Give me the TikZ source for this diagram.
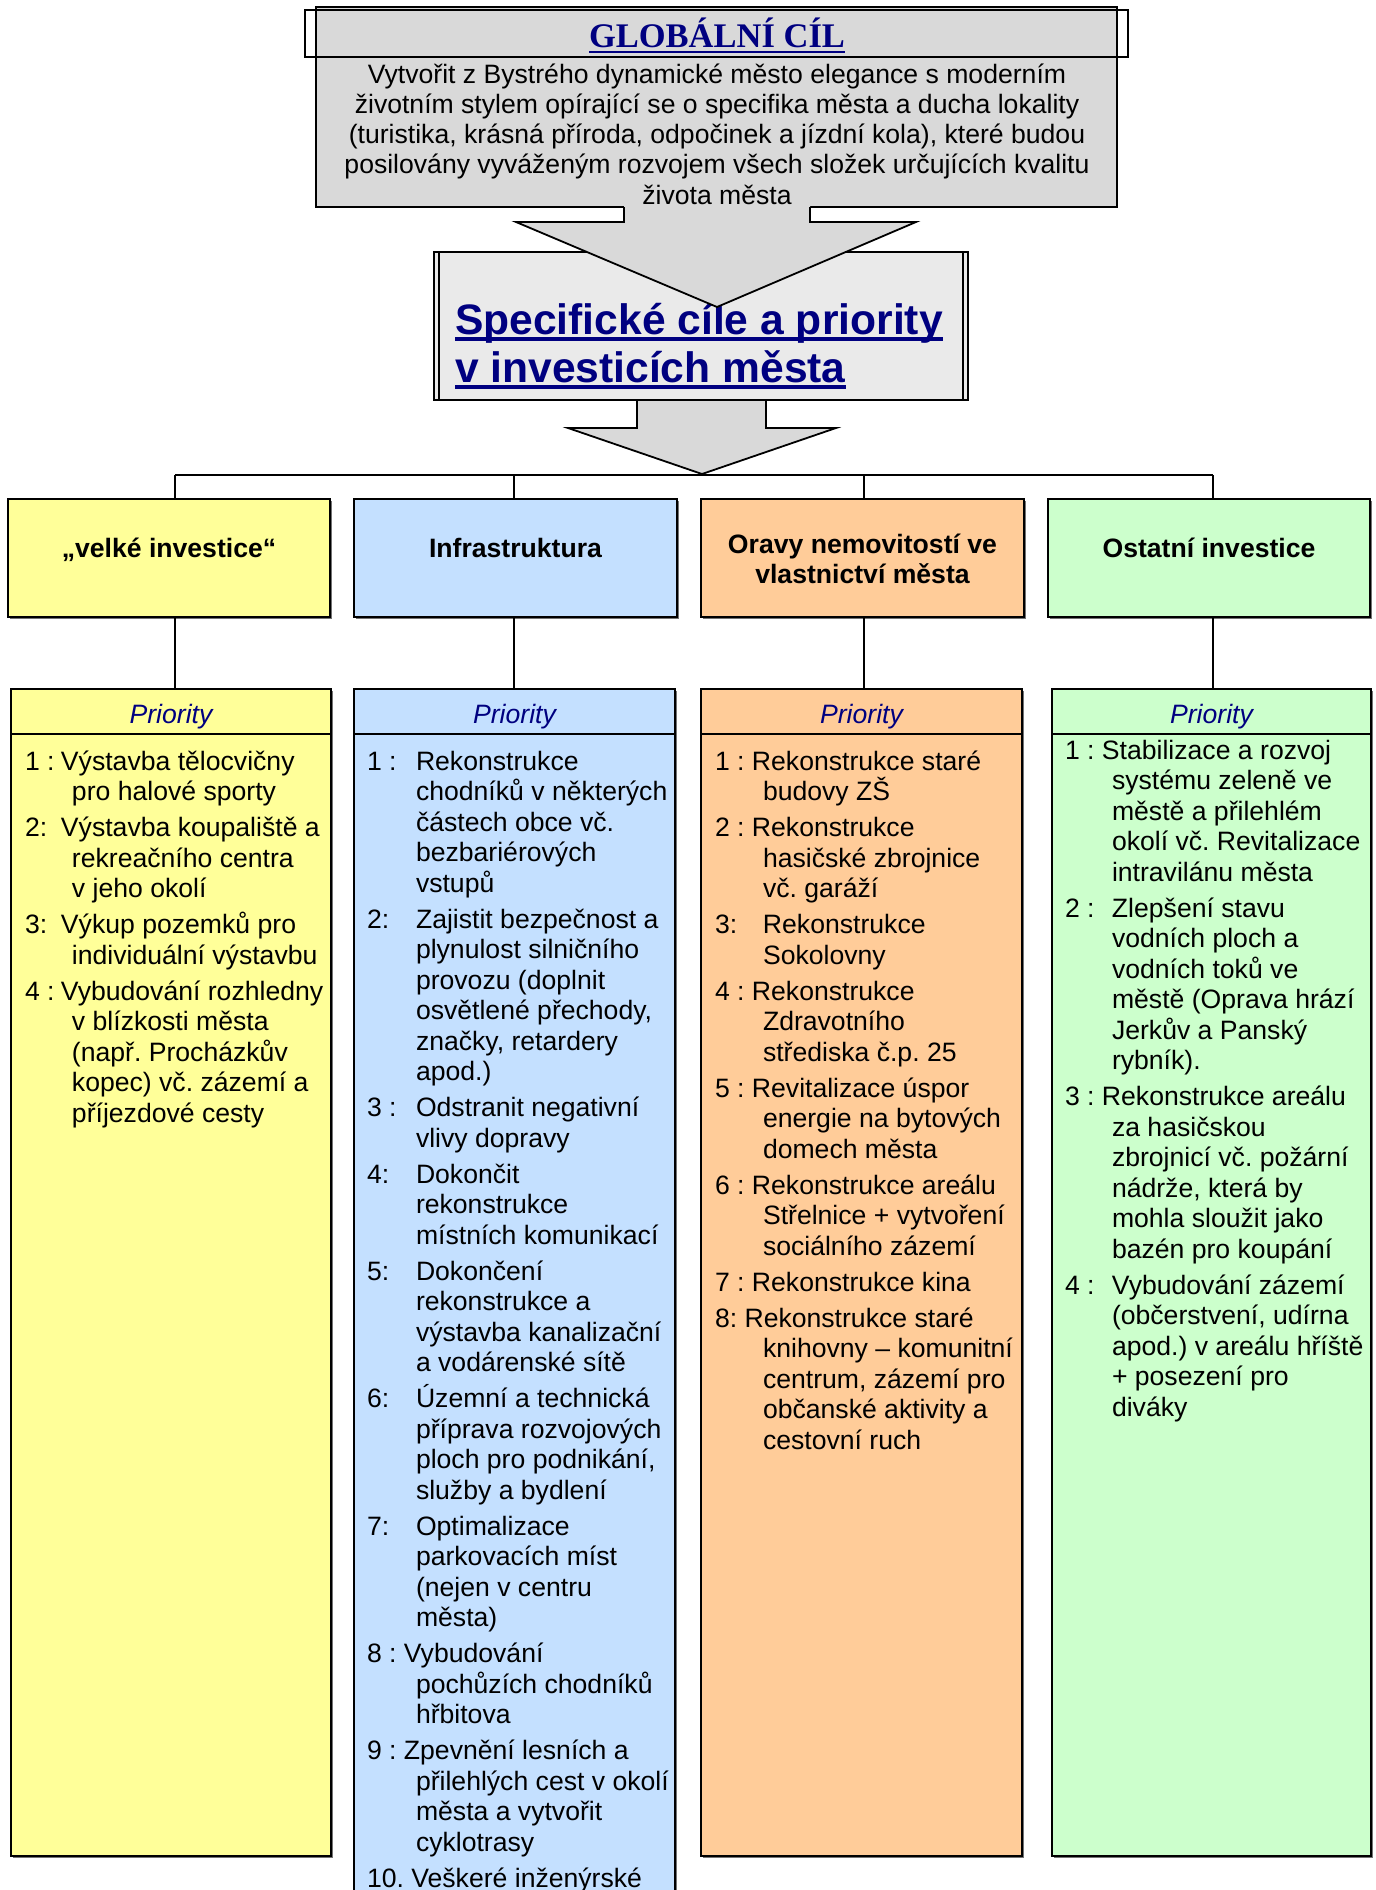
\documentclass[tikz,border=0pt]{standalone}
\usepackage{fontspec}
\setmainfont{Liberation Sans}
\newfontfamily\titleserif{Liberation Serif}
\usetikzlibrary{shadows}
\definecolor{navyc}{HTML}{000080}
\definecolor{cyel}{HTML}{FFFF99}
\definecolor{cblu}{HTML}{C4E0FF}
\definecolor{cora}{HTML}{FFCC99}
\definecolor{cgre}{HTML}{CCFFCC}
\definecolor{gbox}{HTML}{D9D9D9}
\definecolor{sbox}{HTML}{EAEAEA}
\newcommand\lbl[2]{\makebox[#1][l]{#2}}
\newcommand\bodyfont{\fontsize{26.6pt}{30.5pt}\selectfont}
\newcommand\itm[1]{\par\hangindent=#1\hangafter=1\noindent}
\newcommand\brk{\unskip\hfil\break}
\newcommand\collist[1]{\begin{minipage}[t]{400pt}\raggedright\bodyfont\frenchspacing\setlength{\parindent}{0pt}\setlength{\parskip}{5.5pt}#1\end{minipage}}
\begin{document}
\begin{tikzpicture}[x=1pt,y=-1pt,line width=1.8pt,
  every node/.style={inner sep=0pt,outer sep=0pt},
  boxshadow/.style={drop shadow={shadow xshift=1.5pt,shadow yshift=-1.5pt,fill=black!55,opacity=1}},
  catbox/.style={draw=black,rectangle,anchor=north west,minimum height=118pt,boxshadow},
  pribox/.style={draw=black,rectangle,anchor=north west,boxshadow},
  cattext/.style={anchor=base,font=\bodyfont\bfseries},
  prihead/.style={anchor=base,text=navyc,font=\bodyfont\itshape},
  lst/.style={anchor=base west},
  arrowfill/.style={fill=gbox},
  conn/.style={draw=black,line width=1.8pt}]
\useasboundingbox (0,0) rectangle (1376,1890);
\fill[white] (0,0) rectangle (1376,1890);

% ---------- global goal ----------
\node[draw,fill=gbox,rectangle,anchor=north west,minimum width=801pt,minimum height=200pt] (global) at (316,7) {};
\node[draw,rectangle,anchor=north west,minimum width=823pt,minimum height=47pt] (titlebox) at (305,10) {};
\node[anchor=base,text=navyc,font=\titleserif\bfseries\fontsize{34.5pt}{38pt}\selectfont] (titletext) at (717,47) {GLOBÁLNÍ CÍL};
\draw[navyc,line width=2.7pt] ([yshift=-5pt]titletext.base west) -- ([yshift=-5pt]titletext.base east);
\node[anchor=base] (globaltext) at (717,83) {\begin{minipage}[t]{900pt}\centering\fontsize{26.6pt}{30.3pt}\selectfont
Vytvořit z Bystrého dynamické město elegance s moderním\\
životním stylem opírající se o specifika města a ducha lokality\\
(turistika, krásná příroda, odpočinek a jízdní kola), které budou\\
posilovány vyváženým rozvojem všech složek určujících kvalitu\\
života města\end{minipage}};

% ---------- specific goals box ----------
\node[draw,fill=sbox,rectangle,anchor=north west,minimum width=534pt,minimum height=148pt] (spec) at (434,252) {};
\draw ([xshift=5pt]spec.north west) -- ([xshift=5pt]spec.south west);
\draw ([xshift=-5pt]spec.north east) -- ([xshift=-5pt]spec.south east);
\node[anchor=base west,text=navyc,font=\bfseries\fontsize{42.6pt}{48pt}\selectfont] (spec1) at (455,334) {Specifické cíle a priority};
\node[anchor=base west,text=navyc,font=\bfseries\fontsize{42.6pt}{48pt}\selectfont] (spec2) at (455,382) {v investicích města};
\draw[navyc,line width=3.3pt] ([yshift=-5pt]spec1.base west) -- ([yshift=-5pt]spec1.base east);
\draw[navyc,line width=3.3pt] ([yshift=-5pt]spec2.base west) -- ([yshift=-5pt]spec2.base east);

% ---------- block arrows ----------
\fill[arrowfill] (624,205.6) -- (624,222) -- (516,222) -- (717,307) -- (916,222) -- (810,222) -- (810,205.6) -- cycle;
\draw[line join=miter] (624,207) -- (624,222) -- (516,222) -- (717,307) -- (916,222) -- (810,222) -- (810,207);
\fill[arrowfill] (637,401) -- (637,428) -- (568,428) -- (702,474) -- (836,428) -- (766,428) -- (766,401) -- cycle;
\draw[line join=miter] (637,400) -- (637,428) -- (568,428) -- (702,474) -- (836,428) -- (766,428) -- (766,400);

% ---------- category boxes ----------
\node[catbox,fill=cyel,minimum width=322pt] (cat1) at (8,499) {};
\node[catbox,fill=cblu,minimum width=323pt] (cat2) at (354,499) {};
\node[catbox,fill=cora,minimum width=323pt] (cat3) at (701,499) {};
\node[catbox,fill=cgre,minimum width=322pt] (cat4) at (1048,499) {};
\node[cattext] (cat1t) at ([yshift=-58pt]cat1.north) {„velké investice“};
\node[cattext] (cat2t) at ([yshift=-58pt]cat2.north) {Infrastruktura};
\node[cattext] (cat3t) at ([yshift=-54pt]cat3.north) {\begin{minipage}[t]{320pt}\centering\fontsize{26.6pt}{30pt}\selectfont\bfseries Oravy nemovitostí ve\\vlastnictví města\end{minipage}};
\node[cattext] (cat4t) at ([yshift=-58pt]cat4.north) {Ostatní investice};

% ---------- priority boxes ----------
\node[pribox,fill=cyel,minimum width=320pt,minimum height=1167pt] (pri1) at (11,689) {};
\node[pribox,fill=cblu,minimum width=321pt,minimum height=1230pt] (pri2) at (354,689) {};
\node[pribox,fill=cora,minimum width=321pt,minimum height=1167pt] (pri3) at (701,689) {};
\node[pribox,fill=cgre,minimum width=319pt,minimum height=1167pt] (pri4) at (1052,689) {};
\foreach \p in {pri1,pri2,pri3,pri4}{
  \draw ([yshift=-45pt]\p.north west) -- ([yshift=-45pt]\p.north east);
}
\node[prihead] (ph1) at ([yshift=-34pt]pri1.north) {Priority};
\node[prihead] (ph2) at ([yshift=-34pt]pri2.north) {Priority};
\node[prihead] (ph3) at ([yshift=-34pt]pri3.north) {Priority};
\node[prihead] (ph4) at ([yshift=-34pt]pri4.north) {Priority};

% ---------- connectors ----------
\coordinate (b1) at (175,475);
\coordinate (b2) at (514,475);
\coordinate (b3) at (864,475);
\coordinate (b4) at (1213,475);
\draw[conn] (b1) -- (b4);
\draw[conn] (b1) -- (b1 |- cat1.north);
\draw[conn] (b2) -- (b2 |- cat2.north);
\draw[conn] (b3) -- (b3 |- cat3.north);
\draw[conn] (b4) -- (b4 |- cat4.north);
\draw[conn] (b1 |- cat1.south) -- (b1 |- pri1.north);
\draw[conn] (b2 |- cat2.south) -- (b2 |- pri2.north);
\draw[conn] (b3 |- cat3.south) -- (b3 |- pri3.north);
\draw[conn] (b4 |- cat4.south) -- (b4 |- pri4.north);

% ---------- lists ----------
\node[lst] (list1) at (25,770) {\collist{%
\itm{47pt}\lbl{36pt}{1 :}Výstavba tělocvičny\brk pro halové sporty
\itm{47pt}\lbl{36pt}{2:}Výstavba koupaliště a\brk rekreačního centra\brk v jeho okolí
\itm{47pt}\lbl{36pt}{3:}Výkup pozemků pro\brk individuální výstavbu
\itm{47pt}\lbl{36pt}{4 :}Vybudování rozhledny\brk v blízkosti města\brk (např. Procházkův\brk kopec) vč. zázemí a\brk příjezdové cesty}};

\node[lst] (list2) at (367,770) {\collist{%
\itm{49pt}\lbl{49pt}{1 :}Rekonstrukce\brk chodníků v některých\brk částech obce vč.\brk bezbariérových\brk vstupů
\itm{49pt}\lbl{49pt}{2:}Zajistit bezpečnost a\brk plynulost silničního\brk provozu (doplnit\brk osvětlené přechody,\brk značky, retardery\brk apod.)
\itm{49pt}\lbl{49pt}{3 :}Odstranit negativní\brk vlivy dopravy
\itm{49pt}\lbl{49pt}{4:}Dokončit\brk rekonstrukce\brk místních komunikací
\itm{49pt}\lbl{49pt}{5:}Dokončení\brk rekonstrukce a\brk výstavba kanalizační\brk a vodárenské sítě
\itm{49pt}\lbl{49pt}{6:}Územní a technická\brk příprava rozvojových\brk ploch pro podnikání,\brk služby a bydlení
\itm{49pt}\lbl{49pt}{7:}Optimalizace\brk parkovacích míst\brk (nejen v centru\brk města)
\itm{49pt}8 : Vybudování\brk pochůzích chodníků\brk hřbitova
\itm{49pt}9 : Zpevnění lesních a\brk přilehlých cest v okolí\brk města a vytvořit\brk cyklotrasy
\itm{49pt}10. Veškeré inženýrské}};

\node[lst] (list3) at (715,770) {\collist{%
\itm{48pt}1 : Rekonstrukce staré\brk budovy ZŠ
\itm{48pt}2 : Rekonstrukce\brk hasičské zbrojnice\brk vč. garáží
\itm{48pt}\lbl{48pt}{3:}Rekonstrukce\brk Sokolovny
\itm{48pt}4 : Rekonstrukce\brk Zdravotního\brk střediska č.p. 25
\itm{48pt}5 : Revitalizace úspor\brk energie na bytových\brk domech města
\itm{48pt}6 : Rekonstrukce areálu\brk Střelnice + vytvoření\brk sociálního zázemí
\itm{48pt}7 : Rekonstrukce kina
\itm{48pt}8: Rekonstrukce staré\brk knihovny – komunitní\brk centrum, zázemí pro\brk občanské aktivity a\brk cestovní ruch}};

\node[lst] (list4) at (1065,759) {\collist{%
\itm{47pt}1 : Stabilizace a rozvoj\brk systému zeleně ve\brk městě a přilehlém\brk okolí vč. Revitalizace\brk intravilánu města
\itm{47pt}\lbl{47pt}{2 :}Zlepšení stavu\brk vodních ploch a\brk vodních toků ve\brk městě (Oprava hrází\brk Jerkův a Panský\brk rybník).
\itm{47pt}3 : Rekonstrukce areálu\brk za hasičskou\brk zbrojnicí vč. požární\brk nádrže, která by\brk mohla sloužit jako\brk bazén pro koupání
\itm{47pt}\lbl{47pt}{4 :}Vybudování zázemí\brk (občerstvení, udírna\brk apod.) v areálu hříště\brk + posezení pro\brk diváky}};
\end{tikzpicture}
\end{document}
